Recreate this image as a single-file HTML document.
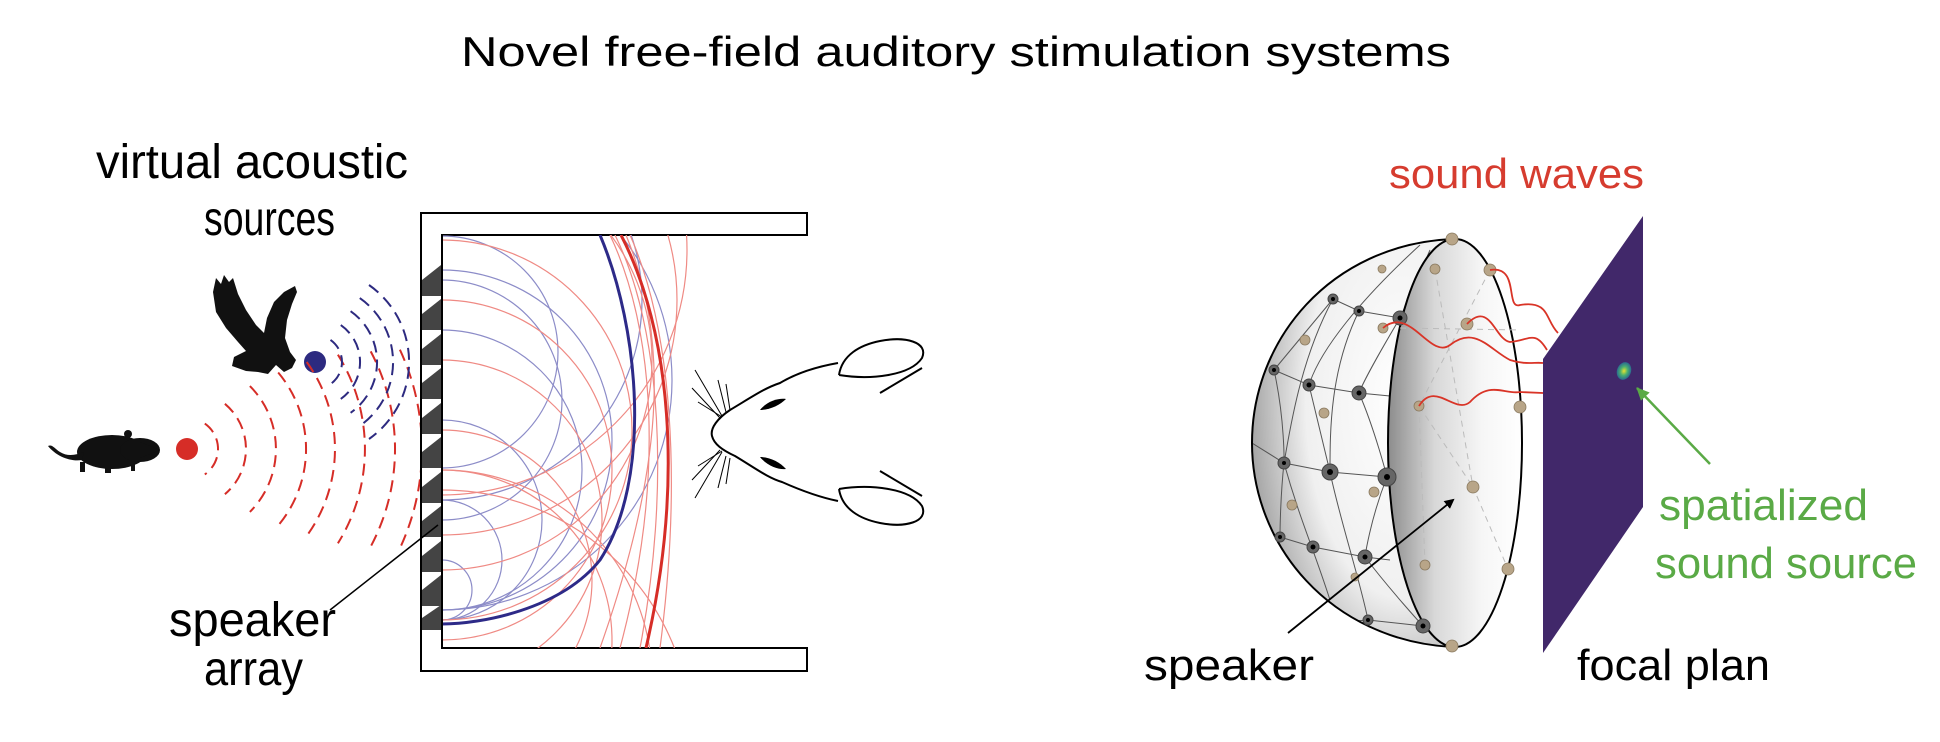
<!DOCTYPE html>
<html><head><meta charset="utf-8"><style>
html,body{margin:0;padding:0;background:#fff;overflow:hidden;width:1940px;height:742px;}
svg{display:block;}
text{font-family:"Liberation Sans",sans-serif;}
</style></head><body>
<svg width="1940" height="742" viewBox="0 0 1940 742" xmlns="http://www.w3.org/2000/svg">
<defs>
<clipPath id="box"><rect x="442" y="235" width="365" height="413"/></clipPath>
<clipPath id="shellclip"><path d="M1452,239 C1330,245 1252,340 1252,443 C1252,545 1330,640 1452,647 Z"/></clipPath>
<radialGradient id="shell" cx="0.75" cy="0.4" r="0.8">
<stop offset="0" stop-color="#ffffff"/><stop offset="0.6" stop-color="#f0f0f0"/><stop offset="1" stop-color="#9a9a9a"/></radialGradient>
<linearGradient id="face" x1="0" y1="0" x2="1" y2="0">
<stop offset="0" stop-color="#8c8c8c"/><stop offset="0.35" stop-color="#d8d8d8"/><stop offset="0.7" stop-color="#f6f6f6"/><stop offset="1" stop-color="#ffffff"/></linearGradient>
<radialGradient id="blob"><stop offset="0" stop-color="#e8e030"/><stop offset="0.5" stop-color="#4ab070"/><stop offset="1" stop-color="#2a6a90"/></radialGradient>
<marker id="ah" markerWidth="10" markerHeight="10" refX="8" refY="5" orient="auto" markerUnits="userSpaceOnUse"><path d="M0,0 L10,5 L0,10 Z" fill="#000"/></marker>
<marker id="ahg" markerWidth="14" markerHeight="14" refX="12" refY="7" orient="auto" markerUnits="userSpaceOnUse"><path d="M0,1 L13,7 L0,13 Z" fill="#5aaa46"/></marker>
</defs>

<text x="956" y="66" font-size="42" text-anchor="middle" textLength="990" lengthAdjust="spacingAndGlyphs">Novel free-field auditory stimulation systems</text>

<!-- left labels -->
<text x="96" y="178" font-size="48" textLength="312" lengthAdjust="spacingAndGlyphs">virtual acoustic</text>
<text x="204" y="235" font-size="48" textLength="131" lengthAdjust="spacingAndGlyphs">sources</text>
<text x="169" y="636" font-size="48" textLength="167" lengthAdjust="spacingAndGlyphs">speaker</text>
<text x="204" y="685" font-size="48" textLength="99" lengthAdjust="spacingAndGlyphs">array</text>

<!-- mouse -->
<g fill="#111">
<ellipse cx="112" cy="452" rx="35" ry="17"/>
<ellipse cx="140" cy="450" rx="20" ry="12"/>
<path d="M140,442 L160,450 L140,458 Z"/>
<circle cx="128" cy="434" r="4"/>
<path d="M82,460 C70,462 56,456 48,446 C52,444 54,448 60,452 C68,457 76,455 84,452 Z"/>
<rect x="80" y="462" width="5" height="10"/><rect x="105" y="465" width="6" height="8"/><rect x="131" y="462" width="4" height="9"/>
</g>
<!-- eagle -->
<path fill="#111" d="M213,292 L216,278 L221,284 L224,275 L229,282 L233,278 L238,294 L246,310 L256,325 L264,333 L267,318 L274,302 L284,292 L295,286 L297,292 L292,304 L287,320 L285,338 L290,352 L296,360 L292,368 L284,372 L276,365 L268,374 L258,372 L246,371 L232,366 L234,357 L246,351 L238,342 L226,328 L216,312 Z"/>

<!-- dots -->
<circle cx="187" cy="449" r="11" fill="#d62d27"/>
<circle cx="315" cy="362" r="11" fill="#2d2a80"/>

<!-- red dashed arcs -->
<g fill="none" stroke="#d62d27" stroke-width="2" stroke-dasharray="12,7">
<path d="M204.8,423.6 A31,31 0 0 1 204.8,474.4"/>
<path d="M224.9,403.8 A59,59 0 0 1 224.9,494.2"/>
<path d="M249.9,386.1 A89,89 0 0 1 249.9,511.9"/>
<path d="M278.2,372.5 A119,119 0 0 1 278.2,525.5"/>
<path d="M306.7,362 A148,148 0 0 1 306.7,536"/>
<path d="M337.9,354.7 A178,178 0 0 1 337.9,543.3"/>
<path d="M370.7,351.4 A208,208 0 0 1 370.7,546.6"/>
<path d="M399.9,349.7 A235,235 0 0 1 399.9,548.3"/>
</g>
<!-- blue dashed arcs -->
<g fill="none" stroke="#2d2a80" stroke-width="2" stroke-dasharray="12,7">
<path d="M330.5,339.9 A27,27 0 0 1 330.5,384.1"/>
<path d="M340.8,325.1 A45,45 0 0 1 340.8,398.9"/>
<path d="M350.6,311.2 A62,62 0 0 1 350.6,412.8"/>
<path d="M359.8,298.1 A78,78 0 0 1 359.8,425.9"/>
<path d="M369,285 A94,94 0 0 1 369,439"/>
</g>

<!-- box -->
<path d="M807,213 L421,213 L421,671 L807,671 L807,648 L442,648 L442,235 L807,235 Z" fill="#fff" stroke="#000" stroke-width="2"/>
<!-- speakers -->
<g fill="#444">
<polygon points="422,280 441,265 441,296 422,296"/>
<polygon points="422,314 441,299 441,330 422,330"/>
<polygon points="422,349 441,334 441,365 422,365"/>
<polygon points="422,383 441,368 441,399 422,399"/>
<polygon points="422,418 441,403 441,434 422,434"/>
<polygon points="422,452 441,437 441,468 422,468"/>
<polygon points="422,487 441,472 441,503 422,503"/>
<polygon points="422,521 441,506 441,537 422,537"/>
<polygon points="422,556 441,541 441,572 422,572"/>
<polygon points="422,590 441,575 441,606 422,606"/>
<polygon points="422,618 441,605 441,630 422,630"/>
</g>

<g clip-path="url(#box)" fill="none">
<g stroke="#8c8cc8" stroke-width="1.2">
<circle cx="442" cy="352" r="116"/>
<circle cx="442" cy="400" r="120"/>
<circle cx="442" cy="440" r="170"/>
<circle cx="442" cy="470" r="140"/>
<circle cx="442" cy="520" r="100"/>
<circle cx="442" cy="560" r="60"/>
<circle cx="442" cy="590" r="30"/>
<circle cx="442" cy="300" r="200"/>
<circle cx="442" cy="380" r="230"/>
</g>
<g stroke="#ef8a84" stroke-width="1.2">
<circle cx="442" cy="430" r="190"/>
<circle cx="442" cy="470" r="170"/>
<circle cx="442" cy="520" r="160"/>
<circle cx="442" cy="580" r="150"/>
<circle cx="442" cy="640" r="170"/>
<circle cx="442" cy="680" r="210"/>
<circle cx="442" cy="740" r="250"/>
<circle cx="442" cy="360" r="210"/>
<circle cx="442" cy="300" r="235"/>
<circle cx="442" cy="250" r="245"/>
<path d="M610,235 C655,330 665,480 620,648"/>
<path d="M615,235 C662,330 670,490 640,648"/>
<path d="M626,235 C665,330 670,450 600,648"/>
<path d="M630,235 C672,330 682,480 660,648"/>
</g>
<path d="M600,235 C640,330 652,480 600,560 C560,610 480,624 442,624" stroke="#2d2a88" stroke-width="3"/>
<path d="M621,235 C670,330 685,480 646,648" stroke="#d62d27" stroke-width="3"/>
</g>
<line x1="442" y1="235" x2="442" y2="648" stroke="#000" stroke-width="2"/>
<line x1="438" y1="525" x2="330" y2="610" stroke="#000" stroke-width="1.5"/>

<!-- rat head -->
<g fill="none" stroke="#000" stroke-width="2">
<path d="M838,363 C815,367 795,374 780,383 C765,388 755,395 730,410 C718,418 710,428 712,436 C714,444 722,450 735,456 C755,468 768,478 782,482 C800,490 818,497 838,501"/>
<path d="M839,375 C870,380 910,376 922,358 C929,342 905,336 880,341 C860,345 842,355 839,375"/>
<line x1="880" y1="393" x2="922" y2="368"/>
<path d="M839,489 C870,484 910,488 922,506 C929,522 905,528 880,523 C860,519 842,509 839,489"/>
<line x1="880" y1="471" x2="922" y2="496"/>
</g>
<g fill="#000">
<path d="M760,410 C768,400 780,398 786,399 C780,405 770,410 760,410 Z"/>
<path d="M760,457 C768,467 780,470 786,469 C780,462 770,457 760,457 Z"/>
</g>
<g stroke="#000" stroke-width="1" fill="none">
<path d="M722,416 L695,370"/><path d="M720,418 L692,388"/><path d="M722,417 L698,402"/><path d="M726,412 L718,380"/><path d="M730,410 L726,384"/>
<path d="M722,452 L695,498"/><path d="M720,450 L692,480"/><path d="M722,451 L698,466"/><path d="M726,456 L718,488"/><path d="M730,458 L726,484"/>
</g>

<!-- sphere -->
<path d="M1452,239 C1330,245 1252,340 1252,443 C1252,545 1330,640 1452,647 Z" fill="url(#shell)"/>
<g fill="none" stroke="#555" stroke-width="1" clip-path="url(#shellclip)">
<path d="M1333,299 L1359,311 L1400,318"/><path d="M1274,370 L1309,385 L1359,393 L1390,396"/>
<path d="M1252,443 L1284,463 L1330,472 L1387,477"/><path d="M1280,537 L1313,547 L1365,557 L1390,560"/>
<path d="M1300,625 L1368,620 L1423,626"/>
<path d="M1333,299 C1300,360 1290,430 1284,463 C1300,520 1313,547 1330,600"/>
<path d="M1359,311 C1330,370 1330,430 1330,472 C1340,520 1360,580 1368,620"/>
<path d="M1400,318 C1375,360 1362,385 1359,393 C1375,430 1387,477 1387,477 C1370,520 1365,557 1365,557 C1390,590 1423,626 1423,626"/>
<path d="M1420,245 C1360,300 1320,350 1309,385 C1320,430 1330,472 1330,472"/>
<path d="M1274,370 C1285,420 1284,463 1284,463 C1280,500 1280,537 1280,537"/>
<path d="M1333,299 L1274,370"/><path d="M1400,318 L1430,250"/>
</g>
<path d="M1452,239 C1330,245 1252,340 1252,443 C1252,545 1330,640 1452,647" fill="none" stroke="#000" stroke-width="2"/>
<ellipse cx="1455" cy="443" rx="67" ry="204" fill="url(#face)" stroke="#000" stroke-width="2"/>
<g fill="none" stroke="#bbb" stroke-width="1" stroke-dasharray="6,5">
<path d="M1400,328 L1520,330"/><path d="M1435,269 L1473,487 L1508,569"/><path d="M1490,270 L1419,406 L1473,487"/><path d="M1419,406 L1425,565"/>
</g>
<g fill="#666" stroke="#444" stroke-width="1">
<circle cx="1333" cy="299" r="5"/><circle cx="1359" cy="311" r="5"/><circle cx="1400" cy="318" r="7"/>
<circle cx="1274" cy="370" r="5"/><circle cx="1309" cy="385" r="6"/><circle cx="1359" cy="393" r="7"/>
<circle cx="1284" cy="463" r="6"/><circle cx="1330" cy="472" r="8"/><circle cx="1387" cy="477" r="9"/>
<circle cx="1280" cy="537" r="5"/><circle cx="1313" cy="547" r="6"/><circle cx="1365" cy="557" r="7"/>
<circle cx="1368" cy="620" r="5"/><circle cx="1423" cy="626" r="7"/>
</g>
<g fill="#000">
<circle cx="1333" cy="299" r="2"/><circle cx="1359" cy="311" r="2"/><circle cx="1400" cy="318" r="2.5"/>
<circle cx="1274" cy="370" r="2"/><circle cx="1309" cy="385" r="2.5"/><circle cx="1359" cy="393" r="2.5"/>
<circle cx="1284" cy="463" r="2"/><circle cx="1330" cy="472" r="3"/><circle cx="1387" cy="477" r="3"/>
<circle cx="1280" cy="537" r="2"/><circle cx="1313" cy="547" r="2.5"/><circle cx="1365" cy="557" r="2.5"/>
<circle cx="1368" cy="620" r="2"/><circle cx="1423" cy="626" r="2.5"/>
</g>
<g fill="#b8a588" stroke="#8a7a60" stroke-width="0.8">
<circle cx="1383" cy="328" r="5"/><circle cx="1305" cy="340" r="5"/><circle cx="1382" cy="269" r="4"/>
<circle cx="1435" cy="269" r="5"/><circle cx="1490" cy="270" r="6"/><circle cx="1467" cy="324" r="6"/>
<circle cx="1419" cy="406" r="5"/><circle cx="1520" cy="407" r="6"/><circle cx="1324" cy="413" r="5"/>
<circle cx="1374" cy="492" r="5"/><circle cx="1292" cy="505" r="5"/><circle cx="1473" cy="487" r="6"/>
<circle cx="1425" cy="565" r="5"/><circle cx="1508" cy="569" r="6"/><circle cx="1355" cy="577" r="4"/>
<circle cx="1452" cy="646" r="6"/><circle cx="1452" cy="239" r="6"/>
</g>
<!-- plane -->
<polygon points="1543,359 1643,216 1643,507 1543,653" fill="#41286a"/>
<ellipse cx="1624" cy="371" rx="7" ry="9" fill="url(#blob)" transform="rotate(20 1624 371)"/>
<!-- waves -->
<g fill="none" stroke="#d93427" stroke-width="1.8">
<path d="M1490,270 C1520,265 1505,310 1520,305 C1550,300 1545,320 1558,333"/>
<path d="M1467,324 C1490,300 1495,340 1510,342 C1530,340 1535,330 1547,350"/>
<path d="M1383,328 C1410,305 1430,360 1450,345 C1475,325 1490,350 1510,360 C1525,365 1535,362 1543,363"/>
<path d="M1419,406 C1435,380 1455,415 1470,402 C1490,380 1505,395 1520,392 L1543,393"/>
</g>
<line x1="1288" y1="633" x2="1453" y2="500" stroke="#000" stroke-width="1.8" marker-end="url(#ah)"/>
<line x1="1710" y1="464" x2="1637" y2="388" stroke="#5aaa46" stroke-width="2.5" marker-end="url(#ahg)"/>

<text x="1389" y="188" font-size="42" fill="#d63c2f" textLength="255" lengthAdjust="spacingAndGlyphs">sound waves</text>
<text x="1659" y="520" font-size="44" fill="#5aaa46" textLength="209" lengthAdjust="spacingAndGlyphs">spatialized</text>
<text x="1655" y="578" font-size="44" fill="#5aaa46" textLength="262" lengthAdjust="spacingAndGlyphs">sound source</text>
<text x="1144" y="680" font-size="44" textLength="170" lengthAdjust="spacingAndGlyphs">speaker</text>
<text x="1577" y="680" font-size="44" textLength="193" lengthAdjust="spacingAndGlyphs">focal plan</text>
</svg>
</body></html>
